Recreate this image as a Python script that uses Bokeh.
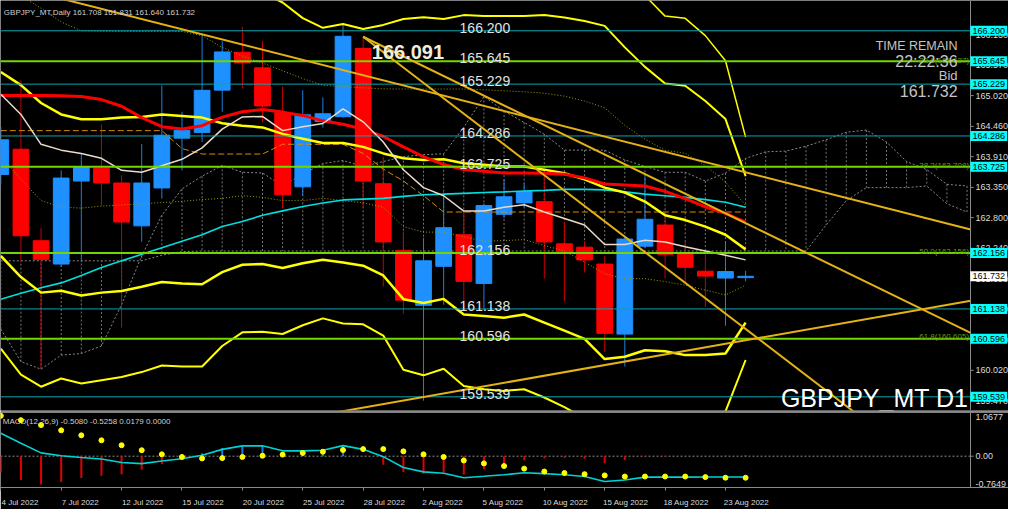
import numpy as np
from bokeh.plotting import figure
from bokeh.layouts import column
from bokeh.models import Range1d, FixedTicker, LinearAxis, Label, ColumnDataSource, AllLabels
from bokeh.core.properties import value
from bokeh.embed import file_html
from bokeh.resources import INLINE

# ---------------- data ----------------
dates = ["4 Jul 2022", "7 Jul 2022", "12 Jul 2022", "15 Jul 2022", "20 Jul 2022", "25 Jul 2022",
         "28 Jul 2022", "2 Aug 2022", "5 Aug 2022", "10 Aug 2022", "15 Aug 2022", "18 Aug 2022", "23 Aug 2022"]
date_bars = [0, 3, 6, 9, 12, 15, 18, 21, 24, 27, 30, 33, 36]

opens = [163.584, 164.045, 162.38, 161.955, 163.465, 163.696, 163.43, 162.65, 163.34, 164.246,
         164.35, 165.12, 165.81, 165.525, 164.708, 163.36, 164.55, 164.637, 165.88, 163.417,
         162.204, 161.204, 161.914, 162.488, 161.60, 162.86, 163.068, 163.09, 162.323, 162.262,
         161.955, 160.68, 162.28, 162.665, 162.132, 161.825, 161.70, 161.708]
highs = [164.45, 165.30, 162.61, 163.66, 163.962, 164.495, 163.57, 164.14, 165.205, 164.726,
         166.13, 166.01, 166.27, 166.01, 165.188, 165.117, 164.99, 166.31, 166.091, 163.909,
         162.546, 162.43, 163.257, 162.90, 163.056, 163.50, 163.434, 163.612, 162.72, 162.37,
         162.10, 162.45, 163.55, 162.81, 162.37, 162.13, 162.34, 161.831]
lows = [163.40, 162.00, 160.05, 161.90, 162.00, 163.02, 160.80, 162.36, 163.145, 163.66,
        164.175, 164.726, 165.15, 164.53, 162.967, 163.20, 164.44, 164.62, 163.00, 161.546,
        161.054, 159.468, 161.214, 161.125, 161.125, 162.79, 162.99, 161.69, 161.275, 161.80,
        160.356, 160.09, 162.25, 161.69, 161.63, 161.173, 160.83, 161.64]
closes = [164.216, 162.47, 162.04, 163.52, 163.714, 163.43, 162.72, 163.43, 164.30, 164.39,
          165.117, 165.815, 165.614, 164.832, 163.216, 164.67, 164.69, 166.10, 163.465, 162.358,
          161.298, 162.014, 162.617, 161.64, 163.02, 163.18, 163.275, 162.358, 162.18, 162.03,
          160.694, 162.41, 162.77, 162.132, 161.896, 161.736, 161.818, 161.732]

ma_fast = [165.045, 164.678, 164.134, 164.028, 163.968, 163.879, 163.660, 163.625, 163.744, 163.861,
           164.069, 164.411, 164.632, 164.642, 164.383, 164.454, 164.513, 164.779, 164.543, 164.175,
           163.672, 163.346, 163.198, 162.919, 162.919, 162.990, 163.033, 162.902, 162.784, 162.665,
           162.310, 162.310, 162.387, 162.358, 162.269, 162.191, 162.115, 162.031]
ma_mid = [165.022, 165.022, 165.022, 165.019, 165.005, 164.948, 164.827, 164.619, 164.454, 164.411,
          164.472, 164.628, 164.726, 164.767, 164.720, 164.660, 164.561, 164.500, 164.411, 164.276,
          164.086, 163.908, 163.766, 163.677, 163.642, 163.612, 163.612, 163.607, 163.589, 163.523,
          163.411, 163.394, 163.376, 163.278, 163.145, 162.994, 162.877, 162.719]
ma_slow = [161.315, 161.422, 161.523, 161.612, 161.747, 161.893, 162.013, 162.132, 162.251, 162.369,
           162.488, 162.639, 162.728, 162.843, 162.923, 163.003, 163.065, 163.122, 163.136, 163.150,
           163.186, 163.216, 163.228, 163.242, 163.257, 163.268, 163.283, 163.296, 163.314, 163.314,
           163.305, 163.269, 163.228, 163.198, 163.168, 163.127, 163.079, 162.990]
kijun = [164.383] * 9 + [164.056] + [163.957] * 4 + [164.135] * 4 + [163.968, 163.684, 163.465, 163.199] + [162.902] * 16

bb_up1 = [165.449, 165.211, 164.886, 164.678, 164.589, 164.589, 164.620, 164.632, 164.678, 164.650,
          164.620, 164.518, 164.472, 164.442, 164.323, 164.234, 164.158, 164.158, 164.087, 163.968,
          163.879, 163.850, 163.861, 163.790, 163.762, 163.731, 163.731, 163.673, 163.607, 163.495,
          163.346, 163.257, 163.092, 162.843, 162.755, 162.636, 162.488, 162.222]
bb_dn1 = [162.103, 161.719, 161.435, 161.470, 161.382, 161.435, 161.463, 161.541, 161.630, 161.600,
          161.588, 161.808, 161.943, 161.955, 161.884, 161.968, 162.032, 161.985, 161.925, 161.747,
          161.316, 161.245, 161.321, 161.037, 161.009, 160.978, 161.037, 160.890, 160.742, 160.593,
          160.227, 160.268, 160.387, 160.369, 160.298, 160.298, 160.327, 160.890]
bb_up2 = [167.106, 167.195, 167.284, 167.284, 167.284, 167.248, 167.195, 167.195, 167.142, 167.142,
          167.106, 167.017, 166.964, 166.893, 166.715, 166.431, 166.254, 166.325, 166.231, 166.307,
          166.413, 166.444, 166.413, 166.485, 166.467, 166.467, 166.467, 166.485, 166.440, 166.378,
          166.289, 165.898, 165.543, 165.241, 165.200, 164.922, 164.593, 163.554]
bb_dn2 = [160.415, 159.943, 159.723, 159.872, 159.783, 159.842, 159.900, 159.989, 160.108, 160.090,
          160.090, 160.463, 160.712, 160.724, 160.682, 160.842, 160.966, 160.872, 160.859, 160.653,
          160.032, 159.930, 160.049, 159.735, 159.677, 159.646, 159.677, 159.527, 159.350, 159.149,
          158.669, 158.758, 158.936, 158.936, 158.847, 158.936, 159.273, 160.209]
bb_up3 = [167.817] * 14 + [167.461] * 17 + [167.284, 166.840, 166.467, 166.426, 166.112, 165.655, 164.264]

env_hi = [167.106, 166.840, 166.609, 166.360, 166.200, 166.192, 166.188, 166.188, 166.188, 166.188,
          166.112, 165.898, 165.739, 165.614, 165.472, 165.330, 165.206, 165.188, 165.161, 165.143,
          165.140, 165.140, 165.140, 165.140, 165.126, 165.108, 165.090, 165.064, 165.010, 164.922,
          164.797, 164.478, 164.229, 164.025, 163.971, 163.749, 163.447, 163.021]
env_lo = [163.909, 163.495, 163.110, 162.991, 162.973, 163.009, 163.030, 163.051, 163.074, 163.097,
          163.128, 163.151, 163.199, 163.169, 163.110, 163.110, 163.151, 163.110, 163.069, 162.991,
          162.636, 162.536, 162.536, 162.453, 162.369, 162.382, 162.399, 162.293, 162.192, 161.991,
          161.778, 161.689, 161.689, 161.636, 161.570, 161.481, 161.392, 161.570]

span_a = [160.771, 160.179, 160.042, 160.298, 160.327, 160.463, 161.215, 162.103, 162.843, 163.323,
          163.554, 163.750, 163.625, 163.612, 163.376, 163.589, 163.785, 163.838, 163.732, 163.820,
          163.909, 163.945, 163.962, 164.442, 165.005, 164.739, 164.531, 164.318, 164.028, 164.028,
          164.028, 163.850, 163.732, 163.625, 163.625, 163.465, 163.612, 163.879, 163.998, 164.010,
          164.099, 164.216, 164.353, 164.394, 164.175, 163.820, 163.673, 163.406, 163.376]
span_b = [162.014] * 8 + [162.115, 162.181] + [162.192] * 31 + [162.666, 163.110, 163.346, 163.346,
                                                                 163.346, 163.376, 163.051, 162.902]

macd_main = [0.559, 0.317, 0.081, 0.011, -0.032, -0.069, -0.154, -0.182, -0.118, -0.062,
             0.024, 0.167, 0.253, 0.253, 0.131, 0.131, 0.146, 0.259, 0.167, -0.011,
             -0.276, -0.383, -0.418, -0.525, -0.490, -0.454, -0.405, -0.426, -0.454, -0.497,
             -0.619, -0.582, -0.512, -0.512, -0.512, -0.510, -0.509, -0.508]
macd_signal = [0.987, 0.880, 0.760, 0.632, 0.510, 0.388, 0.268, 0.146, 0.045, -0.019,
               -0.054, -0.047, -0.019, 0.011, 0.039, 0.081, 0.109, 0.152, 0.173, 0.173,
               0.118, 0.045, -0.019, -0.105, -0.176, -0.240, -0.304, -0.375, -0.411, -0.439,
               -0.469, -0.497, -0.497, -0.497, -0.497, -0.511, -0.525, -0.526]
macd_hist = [-0.40, -0.58, -0.69, -0.63, -0.53, -0.475, -0.44, -0.33, -0.19, -0.06,
             0.075, 0.20, 0.25, 0.25, 0.08, 0.05, 0.04, 0.10, -0.006, -0.21,
             -0.39, -0.43, -0.40, -0.45, -0.32, -0.21, -0.10, -0.05, -0.04, -0.06,
             -0.17, -0.09, -0.015, -0.015, -0.005, 0.005, 0.01, 0.018]

hline_teal = [166.200, 165.229, 164.286, 161.138, 159.539]
hline_green = [165.645, 163.725, 162.156, 160.596]
bid_price = 161.732
swing_high = 166.091
fib_names = ["23.6", "38.2", "50.0", "61.8"]
fib_levels = [165.627, 163.708, 162.156, 160.605]
trend_x0 = [0.0, 18.0, 18.0, 16.0]
trend_p0 = [167.064, 166.091, 166.091, 159.213]
trend_x1 = [48.18, 48.18, 48.18, 48.18]
trend_p1 = [162.584, 157.643, 160.703, 161.289]
price_ticks = [159.47, 160.02, 160.58, 161.13, 161.69, 162.24, 162.80, 163.35, 163.91,
               164.46, 165.02, 165.57, 166.13]
macd_ticks = [1.0677, 0.0, -0.7649]
macd_tick_text = ["1.0677", "0.00", "-0.7649"]
header_text = "GBPJPY_MT,Daily  161.708 161.831 161.640 161.732"
macd_text = "MACD(12,26,9) -0.5080 -0.5258 0.0179 0.0000"

# ---------------- layout constants ----------------
W = 1008
FONT = "Liberation Sans"
GRAY = "#8a8a8a"
X0, X1 = -0.015, 50.06        # visible bar range (incl. price-scale strip)
AXIS_X = 48.18                # price scale line (right edge of chart area)
TICK_TX = 48.42               # scale label start
BOX_X = 49.08                 # centre of level boxes
P_LO, P_HI = 159.29, 166.751
x_rng = Range1d(X0, X1)

def fig(h, yr, **kw):
    f = figure(width=W, height=h, x_range=x_rng, y_range=yr, output_backend="svg",
               toolbar_location=None, background_fill_color="black", border_fill_color="black",
               min_border_left=0, min_border_right=0, min_border_top=0, min_border_bottom=0, **kw)
    f.grid.visible = False
    f.outline_line_color = None
    return f

# ---------------- main price panel ----------------
p = fig(412, Range1d(P_LO, P_HI), x_axis_location=None, y_axis_location=None)
p.min_border_bottom = 2
p.border_fill_color = GRAY

# cloud
xc = np.arange(len(span_a))
p.segment(x0=xc, y0=span_a, x1=xc, y1=span_b, line_color="#777777", line_width=1, line_dash="2 2")
p.line(xc, span_a, line_color="#888888", line_width=1, line_dash="2 2")
p.line(xc, span_b, line_color="#888888", line_width=1, line_dash="2 2")

# candles
x = np.arange(len(opens))
o = np.array(opens); c = np.array(closes)
up = c >= o
src = ColumnDataSource(dict(x=x, hi=highs, lo=lows, top=np.maximum(o, c), bot=np.minimum(o, c),
                            body=np.where(up, "#1e90ff", "#ff0000"),
                            wick=np.where(up, "#1e7fe0", "#c80000")))
p.segment(x0="x", y0="hi", x1="x", y1="lo", line_color="wick", line_width=1, source=src)
p.vbar(x="x", top="top", bottom="bot", width=0.78, fill_color="body", line_color="body", source=src)

# indicators
p.line(x, env_hi, line_color="#9c9c00", line_width=1, line_dash="1 2")
p.line(x, env_lo, line_color="#9c9c00", line_width=1, line_dash="1 2")
p.line(x, kijun, line_color="#d98a00", line_width=1, line_dash="6 3")
p.line(x, ma_slow, line_color="#00dede", line_width=1.6)
p.line(x, bb_up3, line_color="#ffff00", line_width=1.5)
p.line(x, bb_up2, line_color="#ffff00", line_width=2)
p.line(x, bb_dn2, line_color="#ffff00", line_width=2)
p.line(x, bb_up1, line_color="#ffff00", line_width=2.5)
p.line(x, bb_dn1, line_color="#ffff00", line_width=2.5)
p.line(x, ma_mid, line_color="#ff0000", line_width=3)
p.line(x, ma_fast, line_color="#eadbc8", line_width=1.5)

# horizontal levels (stop at the price scale)
nt, ng = len(hline_teal), len(hline_green)
p.segment(x0=[X0] * nt, y0=hline_teal, x1=[AXIS_X] * nt, y1=hline_teal, line_color="#0aa5b0", line_width=1)
p.segment(x0=[X0] * ng, y0=hline_green, x1=[AXIS_X] * ng, y1=hline_green, line_color="#74d600", line_width=2)

# trend lines
p.segment(x0=trend_x0, y0=trend_p0, x1=trend_x1, y1=trend_p1, line_color="#e4b214", line_width=2)

# price scale
p.vspan(x=[AXIS_X], line_color=GRAY, line_width=1)
n = len(price_ticks)
p.segment(x0=[AXIS_X] * n, y0=price_ticks, x1=[AXIS_X + 0.15] * n, y1=price_ticks, line_color=GRAY)
p.text(x=[TICK_TX] * n, y=price_ticks, text=["%.3f" % v for v in price_ticks], text_align="left",
       text_baseline="middle", text_color="#dcdcdc", text_font=value(FONT), text_font_size=value("9px"))
levels = hline_teal + hline_green
nl = len(levels)
p.rect(x=[BOX_X] * nl, y=levels, width=37, height=10, width_units="screen", height_units="screen",
       fill_color="#00ffff", line_color=None)
p.rect(x=[BOX_X], y=[bid_price], width=37, height=10, width_units="screen", height_units="screen",
       fill_color="#ffffff", line_color=None)
p.text(x=[BOX_X] * (nl + 1), y=levels + [bid_price], text=["%.3f" % v for v in levels + [bid_price]],
       text_align="center", text_baseline="middle", text_color="#000000",
       text_font=value(FONT), text_font_size=value("9px"))

# texts inside the chart
def lab(f, **kw):
    f.add_layout(Label(**kw))

for v in sorted(levels, reverse=True):
    lab(p, x=22.79, y=v, text="%.3f" % v, y_offset=3, text_baseline="alphabetic",
        text_color="#e2e2e2", text_font=FONT, text_font_size="14px")
for nm, v in zip(fib_names, fib_levels):
    lab(p, x=48.1, y=v, text="%s(%.3f)" % (nm, v), y_offset=2, text_align="right",
        text_baseline="alphabetic", text_color="#5f9e10", text_font=FONT, text_font_size="8px")
lab(p, x=18.43, y=165.810, text="%.3f" % swing_high, text_baseline="alphabetic",
    text_color="#f3ecdc", text_font=FONT, text_font_size="20px", text_font_style="bold")
lab(p, x=0.15, y=166.538, text=header_text, text_baseline="alphabetic",
    text_color="#cfcfcf", text_font=FONT, text_font_size="8px")
lab(p, x=47.53, y=165.916, text="TIME REMAIN", text_align="right", text_baseline="alphabetic",
    text_color="#c4c4c4", text_font=FONT, text_font_size="12.5px")
lab(p, x=47.53, y=165.650, text="22:22:36", text_align="right", text_baseline="alphabetic",
    text_color="#c4c4c4", text_font=FONT, text_font_size="16px")
lab(p, x=47.53, y=165.383, text="Bid", text_align="right", text_baseline="alphabetic",
    text_color="#c4c4c4", text_font=FONT, text_font_size="13px")
lab(p, x=47.53, y=165.099, text="%.3f" % bid_price, text_align="right", text_baseline="alphabetic",
    text_color="#c4c4c4", text_font=FONT, text_font_size="16px")
lab(p, x=48.07, y=159.52, text="GBPJPY_MT D1", text_align="right", text_baseline="alphabetic",
    text_color="#ffffff", text_font=FONT, text_font_size="25px")

# ---------------- MACD panel ----------------
m = fig(97, Range1d(-0.7649, 1.0677), y_axis_location=None)
ax1 = m.xaxis[0]
ax1.ticker = FixedTicker(ticks=date_bars)
ax1.major_label_overrides = {b: "" for b in date_bars}
ax1.major_label_text_font_size = "0px"
ax1.major_label_standoff = 0
label_pos = [b + 0.095 * len(d) for b, d in zip(date_bars, dates)]
ax2 = LinearAxis(ticker=FixedTicker(ticks=label_pos),
                 major_label_overrides={t: d for t, d in zip(label_pos, dates)},
                 major_label_policy=AllLabels(), axis_line_color=None, major_tick_line_color=None,
                 minor_tick_line_color=None, major_label_standoff=1,
                 major_label_text_color="#dcdcdc", major_label_text_font=FONT,
                 major_label_text_font_size="8px")
m.add_layout(ax2, "below")
ax1.axis_line_color = GRAY
ax1.major_tick_line_color = GRAY
ax1.major_tick_out = 3
ax1.major_tick_in = 0
ax1.minor_tick_line_color = None

m.segment(x0=[X0], y0=[0.0], x1=[AXIS_X], y1=[0.0], line_color=GRAY, line_width=1, line_dash="2 2")
h = np.array(macd_hist)
m.segment(x0=x, y0=np.zeros(len(h)), x1=x, y1=h,
          line_color=np.where(h >= 0, "#1e78d8", "#e00000").tolist(), line_width=2)
m.line(x, macd_main, line_color="#00d2d2", line_width=1.6)
m.scatter(x, macd_signal, size=5, fill_color="#ffff00", line_color="#ffff00")
m.vspan(x=[AXIS_X], line_color=GRAY, line_width=1)
k = len(macd_ticks)
m.segment(x0=[AXIS_X] * k, y0=macd_ticks, x1=[AXIS_X + 0.15] * k, y1=macd_ticks, line_color=GRAY)
msrc = ColumnDataSource(dict(x=[TICK_TX] * k, y=macd_ticks, t=macd_tick_text,
                             b=["top", "middle", "bottom"], off=[1, 0, -1]))
m.text(x="x", y="y", text="t", text_baseline="b", y_offset="off", text_align="left", source=msrc,
       text_color="#dcdcdc", text_font=value(FONT), text_font_size=value("9px"))
lab(m, x=0.1, y=0.85, text=macd_text, text_baseline="alphabetic",
    text_color="#cfcfcf", text_font=FONT, text_font_size="8px")

layout = column(p, m, spacing=0)
open("out.html", "w").write(file_html(layout, INLINE))
